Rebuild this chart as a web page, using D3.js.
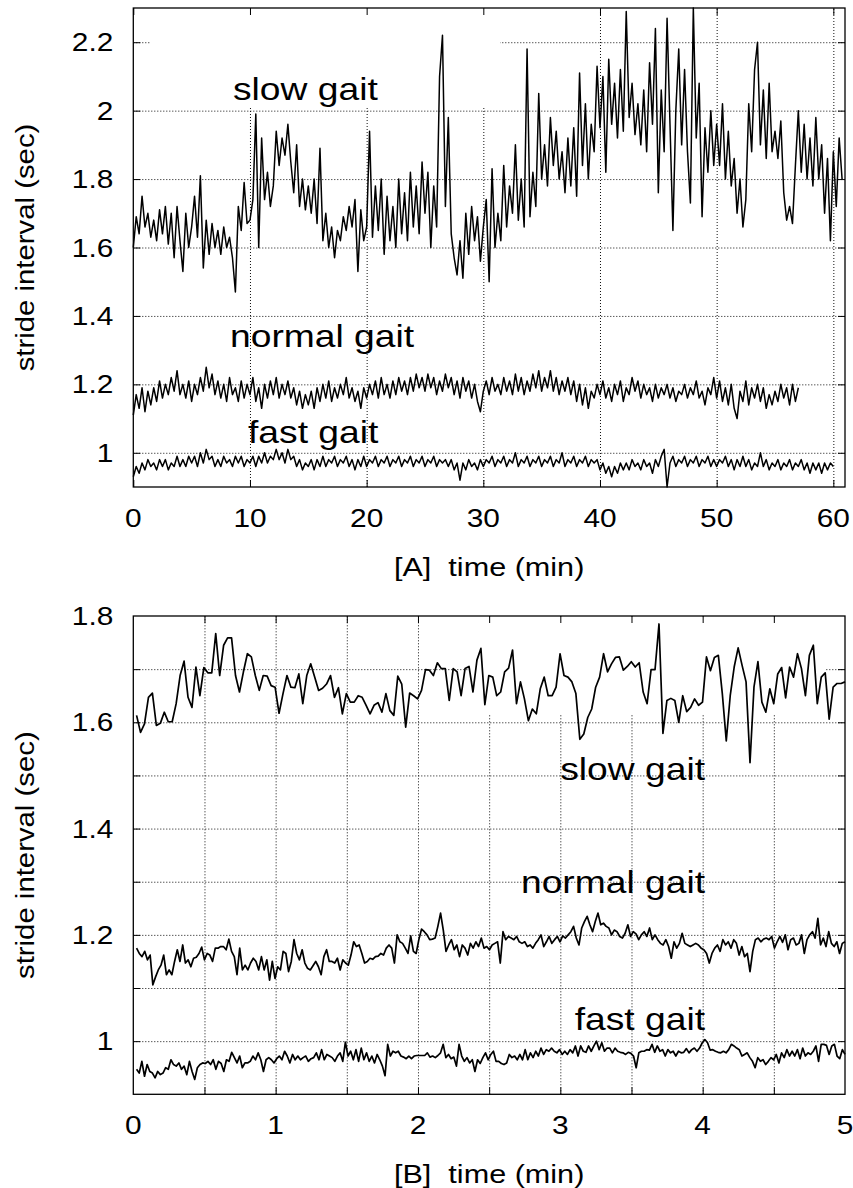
<!DOCTYPE html>
<html><head><meta charset="utf-8">
<script src="https://cdn.jsdelivr.net/npm/d3@7"></script>
<style>
body{margin:0;background:#fff}
svg{display:block}
text{font-family:"Liberation Sans",Arial,Helvetica,sans-serif;fill:#000}
</style>
</head><body><script>
// ---------------- DATA ----------------
// Panel A: 60-minute records (time in minutes, stride interval in seconds)
const slowA = [
1.60,1.69,1.64,1.75,1.66,1.70,1.63,1.68,1.62,1.71,1.64,1.72,1.61,1.70,1.57,1.72,1.62,1.53,1.70,1.60,
1.66,1.75,1.63,1.81,1.54,1.68,1.58,1.67,1.60,1.65,1.58,1.66,1.60,1.63,1.57,1.47,1.72,1.65,1.79,1.67,
1.68,1.74,1.99,1.60,1.92,1.74,1.82,1.72,1.78,1.94,1.84,1.92,1.87,1.96,1.85,1.76,1.90,1.72,1.80,1.71,
1.78,1.70,1.80,1.67,1.89,1.62,1.70,1.60,1.66,1.57,1.65,1.62,1.69,1.65,1.72,1.66,1.74,1.53,1.71,1.62,
1.66,1.94,1.63,1.78,1.65,1.80,1.58,1.75,1.62,1.72,1.60,1.80,1.64,1.76,1.62,1.82,1.66,1.78,1.64,1.85,
1.70,1.82,1.60,1.78,1.66,2.10,2.22,1.72,1.98,1.64,1.57,1.52,1.62,1.51,1.70,1.58,1.72,1.62,1.69,1.56,
1.66,1.74,1.50,1.83,1.60,1.70,1.62,1.84,1.66,1.78,1.70,1.90,1.68,1.80,1.66,2.18,1.69,1.82,1.72,2.05,
1.80,1.90,1.78,1.98,1.84,1.94,1.80,1.88,1.76,1.92,1.78,1.95,1.75,2.11,1.84,2.02,1.80,1.96,1.88,2.13,
1.95,2.10,1.82,2.15,1.96,2.08,1.92,2.12,1.94,2.29,1.98,2.08,1.93,2.02,1.90,2.06,1.88,2.14,1.96,2.24,
1.76,2.06,1.88,2.27,1.96,1.65,2.00,2.18,1.90,2.12,1.88,1.73,2.30,1.92,2.08,1.69,1.95,1.82,2.00,1.84,
1.96,1.84,2.02,1.80,1.94,1.78,1.86,1.70,1.80,1.66,1.74,2.02,1.88,2.12,2.20,1.90,2.06,1.86,2.08,1.88,
1.94,1.86,1.97,1.76,1.68,1.72,1.67,1.84,2.00,1.82,1.96,1.80,1.92,1.78,1.98,1.80,1.90,1.70,1.86,1.62,1.88,1.72,1.92,1.80
];
const normalA = [
1.11,1.17,1.13,1.19,1.12,1.18,1.14,1.19,1.15,1.21,1.16,1.20,1.17,1.22,1.18,1.24,1.17,1.20,1.16,1.21,
1.15,1.20,1.17,1.22,1.18,1.25,1.19,1.23,1.17,1.21,1.16,1.20,1.15,1.22,1.17,1.19,1.15,1.21,1.16,1.20,
1.17,1.22,1.15,1.19,1.13,1.20,1.16,1.21,1.17,1.22,1.16,1.20,1.17,1.21,1.16,1.19,1.14,1.18,1.13,1.17,
1.14,1.18,1.13,1.19,1.15,1.20,1.16,1.21,1.15,1.19,1.16,1.20,1.17,1.22,1.16,1.19,1.15,1.18,1.13,1.19,
1.16,1.20,1.17,1.21,1.16,1.22,1.17,1.20,1.16,1.21,1.17,1.22,1.18,1.21,1.17,1.22,1.18,1.23,1.19,1.22,
1.18,1.23,1.19,1.22,1.17,1.21,1.18,1.23,1.19,1.22,1.17,1.21,1.16,1.22,1.18,1.21,1.16,1.20,1.15,1.12,
1.18,1.21,1.17,1.22,1.18,1.20,1.17,1.22,1.18,1.21,1.17,1.23,1.18,1.22,1.17,1.21,1.18,1.23,1.19,1.24,
1.18,1.22,1.19,1.24,1.18,1.22,1.17,1.21,1.18,1.22,1.17,1.21,1.15,1.20,1.14,1.19,1.13,1.18,1.16,1.20,
1.17,1.21,1.16,1.19,1.15,1.20,1.17,1.21,1.15,1.19,1.17,1.22,1.18,1.21,1.16,1.20,1.17,1.19,1.15,1.20,
1.16,1.19,1.17,1.20,1.16,1.19,1.15,1.18,1.17,1.20,1.16,1.19,1.17,1.21,1.16,1.18,1.14,1.19,1.17,1.22,
1.16,1.21,1.15,1.19,1.14,1.20,1.13,1.10,1.18,1.15,1.21,1.14,1.19,1.16,1.20,1.15,1.19,1.13,1.17,1.14,
1.18,1.15,1.20,1.16,1.19,1.14,1.20,1.15,1.19
];
const fastA = [
0.93,0.96,0.94,0.97,0.95,0.98,0.96,0.97,0.95,0.98,0.96,0.98,0.95,0.97,0.96,0.99,0.96,0.98,0.96,0.99,
0.97,0.99,0.96,1.00,0.97,1.01,0.98,0.99,0.96,0.98,0.96,0.99,0.97,0.98,0.96,0.99,0.97,0.99,0.96,0.98,
0.97,0.99,0.96,0.99,0.97,1.00,0.97,0.99,0.98,1.01,0.98,1.00,0.97,1.01,0.98,0.99,0.96,0.98,0.95,0.97,
0.96,0.98,0.95,0.98,0.96,0.99,0.96,0.98,0.97,0.99,0.96,0.98,0.97,0.99,0.96,0.98,0.95,0.98,0.96,0.99,
0.96,0.98,0.97,0.99,0.96,0.98,0.97,0.99,0.96,0.98,0.97,0.99,0.96,0.98,0.97,0.99,0.96,0.98,0.97,0.99,
0.96,0.98,0.97,0.99,0.96,0.98,0.97,0.98,0.96,0.98,0.95,0.97,0.92,0.97,0.95,0.98,0.96,0.97,0.95,0.98,
0.96,0.98,0.97,0.99,0.96,0.98,0.97,0.99,0.96,0.98,0.97,1.00,0.96,0.98,0.97,0.99,0.96,0.98,0.97,0.99,
0.96,0.98,0.97,0.99,0.96,0.98,0.97,1.00,0.96,0.98,0.97,0.99,0.96,0.98,0.97,0.99,0.96,0.98,0.97,0.98,
0.95,0.97,0.94,0.96,0.93,0.96,0.94,0.97,0.95,0.97,0.95,0.98,0.96,0.97,0.95,0.98,0.96,0.97,0.94,0.98,
0.96,0.99,1.01,0.90,0.97,0.99,0.96,0.98,0.97,0.99,0.96,0.98,0.97,0.99,0.96,0.98,0.97,0.99,0.96,0.98,
0.96,0.98,0.97,0.99,0.96,0.98,0.95,0.98,0.96,0.99,0.96,0.98,0.95,0.97,0.96,1.00,0.96,0.98,0.95,0.97,
0.96,0.98,0.95,0.97,0.96,0.98,0.95,0.97,0.96,0.98,0.95,0.97,0.94,0.97,0.95,0.97,0.94,0.97,0.95,0.97,
0.96
];
const spanA = {slow:[0,60.75], normal:[0,57], fast:[0,60]};

// Panel B: first 5 minutes
const slowB = [
1.613,1.581,1.597,1.647,1.655,1.594,1.598,1.619,1.601,1.601,
1.635,1.688,1.715,1.647,1.628,1.704,1.650,1.703,1.693,1.693,
1.767,1.688,1.745,1.759,1.759,1.688,1.657,1.695,1.729,1.723,
1.688,1.660,1.688,1.687,1.669,1.666,1.617,1.654,1.688,1.666,
1.665,1.691,1.635,1.688,1.710,1.685,1.660,1.664,1.672,1.688,
1.647,1.665,1.616,1.654,1.638,1.638,1.650,1.647,1.632,1.616,
1.632,1.637,1.619,1.654,1.622,1.613,1.687,1.672,1.591,1.655,
1.650,1.644,1.660,
1.699,1.698,1.688,1.712,1.701,1.701,1.641,1.701,1.695,
1.650,1.701,1.705,1.657,1.717,1.739,1.633,1.688,1.685,1.650,
1.657,1.695,1.702,1.736,1.635,1.676,1.644,1.603,1.625,1.616,
1.663,1.685,1.650,1.650,1.666,1.729,1.688,1.685,1.676,1.654,
1.568,1.578,1.609,1.625,1.666,1.685,1.729,1.695,1.710,1.722,
1.723,1.698,1.705,1.714,1.704,1.712,1.657,1.635,1.699,1.699,
1.785,1.579,1.641,1.645,1.641,1.600,1.650,1.620,1.628,1.644,
1.632,1.638,1.723,1.697,1.722,1.726,1.654,1.565,1.650,1.704,
1.740,1.707,1.676,1.524,1.666,1.714,1.638,1.619,1.663,1.635,
1.691,1.703,1.646,1.704,1.685,1.729,1.701,1.650,1.726,1.745,
1.635,1.685,1.693,1.606,1.666,1.673,1.673,1.676
];
const normalB = [
1.175,1.165,1.159,1.169,1.153,1.162,1.106,1.121,1.134,1.143,
1.162,1.125,1.134,1.125,1.150,1.172,1.150,1.181,1.147,1.153,
1.140,1.156,1.158,1.165,1.177,1.153,1.165,1.162,1.150,1.175,
1.175,1.178,1.178,1.172,1.192,1.169,1.159,1.125,1.175,1.134,
1.143,1.134,1.147,1.156,1.150,1.134,1.159,1.134,1.153,1.115,
1.150,1.118,1.140,1.134,1.169,1.165,1.131,1.150,1.191,1.165,
1.153,1.172,1.147,1.137,1.134,1.142,1.150,1.140,1.125,1.159,
1.172,1.150,1.150,1.147,1.156,1.134,1.153,1.147,1.143,1.162,
1.187,1.178,1.181,1.165,1.147,1.150,1.156,1.154,1.159,1.160,
1.165,1.162,1.175,1.181,1.175,1.147,1.200,1.187,1.184,1.175,
1.165,1.198,1.169,
1.165,1.191,1.211,1.206,1.200,1.191,1.192,1.194,1.216,1.241,
1.209,1.169,1.181,1.191,1.172,1.181,1.159,1.181,1.175,1.162,
1.184,1.175,1.187,1.178,1.194,1.175,1.178,1.172,1.181,1.184,
1.187,1.147,1.206,1.191,1.197,1.194,1.191,1.197,1.187,1.184,
1.187,1.178,1.181,1.175,1.184,1.191,1.200,1.178,1.187,1.197,
1.184,1.191,1.197,1.187,1.198,1.194,1.200,1.206,1.216,1.194,
1.181,1.213,1.225,1.235,1.219,1.206,1.225,1.241,1.219,1.222,
1.216,1.213,1.200,1.209,1.206,1.197,1.194,1.203,1.219,1.197,
1.206,1.202,1.191,1.200,1.206,1.197,1.213,1.191,1.200,1.191,
1.184,1.181,1.191,1.178,1.156,1.187,1.175,1.184,1.203,1.184,
1.181,1.178,1.181,1.184,1.181,1.175,1.172,1.165,1.147,1.165,
1.175,1.181,1.169,1.191,1.181,1.187,1.175,1.191,1.184,1.162,
1.178,1.159,1.165,1.131,1.169,1.191,1.194,1.187,1.192,1.194,
1.191,1.197,1.175,1.187,1.197,1.186,1.200,1.172,1.191,1.194,
1.181,1.184,1.200,1.165,1.191,1.200,1.206,1.194,1.231,1.181,
1.194,1.178,1.206,1.184,1.178,1.187,1.165,1.184,1.187
];
const fastB = [
0.947,0.940,0.962,0.934,0.956,0.943,0.940,0.931,0.943,0.937,
0.940,0.950,0.947,0.965,0.956,0.953,0.959,0.947,0.953,0.937,
0.962,0.943,0.928,0.950,0.956,0.959,0.958,0.962,0.956,0.965,
0.947,0.962,0.958,0.943,0.965,0.962,0.979,0.969,0.959,0.972,
0.950,0.959,0.959,0.962,0.972,0.965,0.978,0.965,0.943,0.965,
0.969,0.965,0.959,0.967,0.972,0.965,0.981,0.972,0.959,0.975,
0.965,0.972,0.965,0.969,0.972,0.962,0.967,0.969,0.978,0.965,
0.984,0.965,0.975,0.972,0.969,0.962,0.972,0.978,0.962,0.998,
0.972,0.981,0.965,0.984,0.962,0.987,0.965,0.978,0.962,0.972,
0.959,0.975,0.965,0.953,0.935,0.994,0.972,0.981,0.978,0.981,
0.972,0.970,0.967,0.972,0.967,0.972,0.973,0.973,0.973,0.973,
0.978,0.970,
0.972,0.969,0.973,0.978,0.994,0.969,0.975,0.967,0.970,0.953,
0.994,0.972,0.962,0.969,0.959,0.965,0.943,0.965,0.958,0.969,
0.978,0.965,0.975,0.981,0.962,0.962,0.958,0.956,0.959,0.975,
0.969,0.972,0.965,0.975,0.965,0.984,0.965,0.978,0.969,0.981,
0.972,0.987,0.975,0.984,0.981,0.987,0.981,0.978,0.984,0.975,
0.981,0.975,0.984,0.978,0.991,0.972,0.991,0.981,0.979,0.991,
0.981,0.991,1.000,0.984,0.997,0.981,0.987,0.987,0.978,0.987,
0.981,0.979,0.978,0.975,0.979,0.977,0.972,0.950,0.978,0.981,
0.981,0.984,0.983,0.994,0.979,0.991,0.981,0.984,0.972,0.984,
0.978,0.981,0.972,0.981,0.978,0.979,0.986,0.978,0.984,0.987,
0.981,0.987,0.997,1.003,0.997,0.983,0.984,0.981,0.979,0.978,
0.981,0.978,0.984,0.994,0.991,0.987,0.984,0.972,0.975,0.978,
0.969,0.962,0.950,0.969,0.962,0.965,0.956,0.962,0.969,0.965,
0.975,0.959,0.978,0.969,0.984,0.972,0.981,0.972,0.984,0.967,
0.987,0.972,0.978,0.975,0.981,0.991,0.962,0.994,0.994,0.992,
0.975,0.991,0.994,0.972,0.967,0.984,0.975
];
const spanB = {slow:[0.023,5.0], normal:[0.023,5.0], fast:[0.023,5.0]};

// Axes / ticks
const aXDomain = [0,61], aYDomain = [0.9,2.3];
const aXTicks = [0,10,20,30,40,50,60];
const aXGrid = [10,20,30,40,50,60];
const aXLabels = ["0","10","20","30","40","50","60"];
const aYTicks = [1,1.2,1.4,1.6,1.8,2,2.2];
const aYLabels = ["1","1.2","1.4","1.6","1.8","2","2.2"];

const bXDomain = [0,5], bYDomain = [0.9,1.8];
const bXTicks = [0.5,1,1.5,2,2.5,3,3.5,4,4.5];
const bXGrid = [0.5,1,1.5,2,2.5,3,3.5,4,4.5];
const bXLabelVals = [0,1,2,3,4,5];
const bXLabels = ["0","1","2","3","4","5"];
const bYTicks = [1,1.1,1.2,1.3,1.4,1.5,1.6,1.7];
const bYLabelVals = [1,1.2,1.4,1.6,1.8];
const bYLabels = ["1","1.2","1.4","1.6","1.8"];

const gaitNames = ["slow gait","normal gait","fast gait"];
const yTitle = "stride interval (sec)";
const xTitles = ["[A]  time (min)","[B]  time (min)"];

// ---------------- DRAW ----------------
const W = 853, H = 1188;
const svg = d3.select("body").append("svg").attr("width",W).attr("height",H);

function stext(g, x, y, s, size, anchor, sx, rot){
  g.append("text")
    .attr("transform", `translate(${x},${y})` + (rot?` rotate(${rot})`:"") + ` scale(${sx},1)`)
    .attr("text-anchor", anchor)
    .attr("xml:space","preserve")
    .style("white-space","pre")
    .style("font-size", size+"px")
    .text(s);
}

function panel(p){
  const x = d3.scaleLinear().domain(p.xDom).range([p.L,p.R]);
  const y = d3.scaleLinear().domain(p.yDom).range([p.B,p.T]);
  const g = svg.append("g");
  const gridStyle = s => { s.select(".domain").remove();
    s.selectAll("line").attr("stroke","#111").attr("stroke-width",1).attr("stroke-dasharray","1,2"); };
  // grid
  g.append("g").attr("transform",`translate(0,${p.B})`)
    .call(d3.axisBottom(x).tickValues(p.xGrid).tickSize(-(p.B-p.T)).tickFormat(""))
    .call(gridStyle);
  g.append("g").attr("transform",`translate(${p.L},0)`)
    .call(d3.axisLeft(y).tickValues(p.yGrid).tickSize(-(p.R-p.L)).tickFormat(""))
    .call(gridStyle);
  // opaque key area
  g.append("rect").attr("x",p.box[0]).attr("y",p.box[1]).attr("width",p.box[2]-p.box[0]).attr("height",p.box[3]-p.box[1]).attr("fill","#fff");
  // inward ticks
  const tickStyle = s => { s.select(".domain").remove(); s.selectAll("line").attr("stroke","#000").attr("stroke-width",1); };
  const ts = -7;
  g.append("g").attr("transform",`translate(0,${p.B})`).call(d3.axisBottom(x).tickValues(p.xTicks).tickSize(ts).tickFormat("")).call(tickStyle);
  g.append("g").attr("transform",`translate(0,${p.T})`).call(d3.axisTop(x).tickValues(p.xTicks).tickSize(ts).tickFormat("")).call(tickStyle);
  g.append("g").attr("transform",`translate(${p.L},0)`).call(d3.axisLeft(y).tickValues(p.yTicks).tickSize(ts).tickFormat("")).call(tickStyle);
  g.append("g").attr("transform",`translate(${p.R},0)`).call(d3.axisRight(y).tickValues(p.yTicks).tickSize(ts).tickFormat("")).call(tickStyle);
  // border
  g.append("rect").attr("x",p.L).attr("y",p.T).attr("width",p.R-p.L).attr("height",p.B-p.T)
    .attr("fill","none").attr("stroke","#000").attr("stroke-width",1.3);
  // series
  p.series.forEach(s => {
    const n = s.v.length;
    const pts = s.v.map((v,i)=>[s.span[0] + i*(s.span[1]-s.span[0])/(n-1), v]);
    g.append("path").datum(pts)
      .attr("fill","none").attr("stroke","#000").attr("stroke-width",p.lw)
      .attr("stroke-linejoin","round")
      .attr("d", d3.line().x(d=>x(d[0])).y(d=>y(d[1])));
  });
  // tick labels
  p.xLabelVals.forEach((v,i)=> stext(g, x(v), p.B+40, p.xLabels[i], 25.5, "middle", 1.17));
  p.yLabelVals.forEach((v,i)=> stext(g, p.L-20, y(v)+9, p.yLabels[i], 25.5, "end", 1.17));
  // axis titles
  stext(g, (p.L+p.R)/2, p.B+89, p.xTitle, 25.5, "middle", 1.2);
  stext(g, 34, (p.T+p.B)/2, yTitle, 25.5, "middle", 1.15, -90);
  // gait labels
  p.labels.forEach(l => stext(g, l.x, l.y, l.s, 30.5, l.a, 1.22));
}

panel({
  L:133.3, R:845, T:8, B:487, xDom:aXDomain, yDom:aYDomain,
  xGrid:aXGrid, yGrid:aYTicks, xTicks:aXTicks, yTicks:aYTicks,
  xLabelVals:aXTicks, xLabels:aXLabels, yLabelVals:aYTicks, yLabels:aYLabels,
  xTitle:xTitles[0], box:[150,9,500,108], lw:1.5,
  series:[{v:slowA,span:spanA.slow},{v:normalA,span:spanA.normal},{v:fastA,span:spanA.fast}],
  labels:[{s:gaitNames[0],x:233,y:100,a:"start"},{s:gaitNames[1],x:230,y:347,a:"start"},{s:gaitNames[2],x:248,y:443,a:"start"}]
});
panel({
  L:133.3, R:845, T:616, B:1094.3, xDom:bXDomain, yDom:bYDomain,
  xGrid:bXGrid, yGrid:bYTicks, xTicks:bXTicks, yTicks:bYTicks,
  xLabelVals:bXLabelVals, xLabels:bXLabels, yLabelVals:bYLabelVals, yLabels:bYLabels,
  xTitle:xTitles[1], box:[470,617,826,715], lw:1.7,
  series:[{v:slowB,span:spanB.slow},{v:normalB,span:spanB.normal},{v:fastB,span:spanB.fast}],
  labels:[{s:gaitNames[0],x:705,y:780,a:"end"},{s:gaitNames[1],x:705,y:893,a:"end"},{s:gaitNames[2],x:705,y:1030,a:"end"}]
});
</script></body></html>
